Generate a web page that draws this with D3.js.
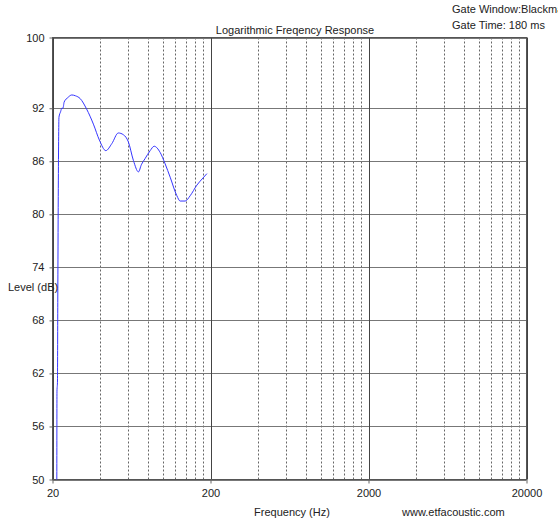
<!DOCTYPE html>
<html>
<head>
<meta charset="utf-8">
<script src="https://cdn.jsdelivr.net/npm/d3@7"></script>
<style>
  body { margin: 0; background: #fff; }
  svg { display: block; font-family: Arial, "Liberation Sans", sans-serif; }
</style>
</head>
<body>
<div id="chart"></div>
<script>

// DATA
// --------------------------------------------------------------------------

var freqs = [
  21.3, 21.35, 21.5, 21.6, 21.75, 21.98, 22.5, 22.9, 23.3, 23.7, 25.0,
  26.5, 28.0, 29.9, 32.9, 36.3, 39.6, 43.5, 47.5, 52.2, 56.2, 60.4,
  65.0, 70.0, 73.0, 77.1, 83.0, 88.0, 96.0, 103.3, 111.1, 122.5, 128.5,
  138.3, 148.7, 164.0, 177.0, 189.8
];

var levels = [
  50.0, 60.0, 61.0, 70.0, 82.0, 91.0, 91.6, 92.0, 92.0, 92.7, 93.2,
  93.5, 93.4, 93.1, 91.9, 90.2, 88.4, 87.2, 88.0, 89.2, 89.0, 88.2,
  86.1, 84.8, 85.6, 86.3, 87.2, 87.7, 87.0, 85.7, 84.2, 82.1, 81.5,
  81.5, 82.1, 83.3, 84.0, 84.6
];

var yTicks = [50, 56, 62, 68, 74, 80, 86, 92, 100];
var xDecades = [20, 200, 2000, 20000];
var xMinor = [
  40, 60, 80, 100, 120, 140, 160, 180,
  400, 600, 800, 1000, 1200, 1400, 1600, 1800,
  4000, 6000, 8000, 10000, 12000, 14000, 16000, 18000
];


// LAYOUT
// --------------------------------------------------------------------------

var W = 558, H = 520;
var pLeft = 52.5, pRight = 526.5, pTop = 37.5, pBottom = 479.5;

var svg = d3.select('#chart').append('svg')
  .attr('width', W).attr('height', H);

var x = d3.scaleLog().domain([20, 20000]).range([pLeft, pRight]);
var y = d3.scaleLinear().domain([50, 100]).range([pBottom, pTop]);

function px(v) { return Math.round(v) + 0.5; }


// GRID
// --------------------------------------------------------------------------

// Dotted minor verticals.
svg.append('g').selectAll('line').data(xMinor).join('line')
  .attr('x1', function(d) { return px(x(d)); })
  .attr('x2', function(d) { return px(x(d)); })
  .attr('y1', pTop).attr('y2', pBottom)
  .attr('stroke', '#666').attr('stroke-dasharray', '2,2');

// Solid horizontals.
svg.append('g').selectAll('line').data(yTicks).join('line')
  .attr('x1', pLeft).attr('x2', pRight)
  .attr('y1', function(d) { return px(y(d)); })
  .attr('y2', function(d) { return px(y(d)); })
  .attr('stroke', '#777');

// Decade verticals.
svg.append('g').selectAll('line').data(xDecades).join('line')
  .attr('x1', function(d) { return px(x(d)); })
  .attr('x2', function(d) { return px(x(d)); })
  .attr('y1', pTop).attr('y2', pBottom)
  .attr('stroke', '#444');

// Frame.
svg.append('rect')
  .attr('x', pLeft).attr('y', pTop)
  .attr('width', pRight - pLeft).attr('height', pBottom - pTop)
  .attr('fill', 'none').attr('stroke', '#555');


// AXES
// --------------------------------------------------------------------------

var yAxis = d3.axisLeft(y).tickValues(yTicks).tickSize(3).tickPadding(5);
var gy = svg.append('g').attr('transform', 'translate(' + pLeft + ',0)')
  .call(yAxis);

var xAxis = d3.axisBottom(x).tickValues(xDecades).tickSize(4)
  .tickPadding(6).tickFormat(d3.format('d'));
var gx = svg.append('g').attr('transform', 'translate(0,' + pBottom + ')')
  .call(xAxis);

[gy, gx].forEach(function(g) {
  g.select('.domain').remove();
  g.selectAll('.tick line').attr('stroke', '#666');
  g.selectAll('.tick text').attr('fill', '#222')
    .style('font-size', '11px').style('font-family', 'Arial, sans-serif');
});


// CURVE
// --------------------------------------------------------------------------

var line = d3.line()
  .x(function(d, i) { return x(freqs[i]); })
  .y(function(d) { return y(d); })
  .curve(d3.curveMonotoneX);

svg.append('path').datum(levels)
  .attr('d', line)
  .attr('fill', 'none')
  .attr('stroke', '#3535ff')
  .attr('stroke-width', 1);


// TEXT
// --------------------------------------------------------------------------

function label(tx, ty, str, anchor) {
  svg.append('text')
    .attr('x', tx).attr('y', ty)
    .attr('text-anchor', anchor || 'start')
    .attr('fill', '#222')
    .style('font-size', '11px')
    .text(str);
}

label(295, 34, 'Logarithmic Freqency Response', 'middle');
label(452, 13, 'Gate Window:Blackman');
label(452, 29, 'Gate Time: 180 ms');
label(8, 291, 'Level (dB)');
label(292, 516, 'Frequency (Hz)', 'middle');
label(402, 516, 'www.etfacoustic.com');

</script>
</body>
</html>
